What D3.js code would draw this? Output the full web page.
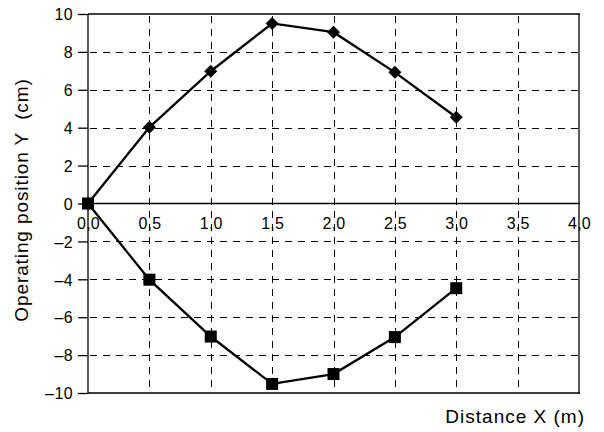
<!DOCTYPE html>
<html>
<head>
<meta charset="utf-8">
<script src="https://cdn.jsdelivr.net/npm/d3@7"></script>
<style>
  body { margin: 0; background: #fff; }
  text { font-family: "Liberation Sans", Arial, sans-serif; fill: #000; }
</style>
</head>
<body>
<svg id="chart" width="604" height="432"></svg>
<script>
// distance X (m)
const xValues = [0, 0.5, 1.0, 1.5, 2.0, 2.5, 3.0];
// upper track (diamonds) and lower track (squares), cm
const upperY = [0, 4.02, 6.98, 9.5, 9.04, 6.92, 4.55];
const lowerY = [0, -4.02, -7.02, -9.52, -9.0, -7.05, -4.47];
const xTicks = [0, 0.5, 1.0, 1.5, 2.0, 2.5, 3.0, 3.5, 4.0];
const yTicks = [-10, -8, -6, -4, -2, 0, 2, 4, 6, 8, 10];

const svg = d3.select("#chart");
const pLeft = 88, pRight = 579, pTop = 14, pBottom = 393;

const x = d3.scaleLinear().domain([0, 4]).range([pLeft, pRight]);
const y = d3.scaleLinear().domain([-10, 10]).range([pBottom, pTop]);

const fmtX = d => d3.format(".1f")(d).replace(".", ",");
const fmtY = d => (d < 0 ? "\u2013" + Math.abs(d) : String(d));

// dashed grid
const grid = svg.append("g").attr("stroke", "#000").attr("stroke-width", 1)
    .attr("stroke-dasharray", "7,6");
grid.selectAll(".hgrid").data(yTicks.filter(d => d !== 0 && Math.abs(d) !== 10))
    .enter().append("line")
    .attr("class", "hgrid")
    .attr("x1", pLeft + 2).attr("x2", pRight)
    .attr("y1", d => Math.round(y(d)) + 0.5).attr("y2", d => Math.round(y(d)) + 0.5);
grid.selectAll(".vgrid").data(xTicks.filter(d => d !== 0 && d !== 4))
    .enter().append("line")
    .attr("class", "vgrid")
    .attr("x1", d => Math.round(x(d)) + 0.5).attr("x2", d => Math.round(x(d)) + 0.5)
    .attr("y1", pTop + 2).attr("y2", pBottom);

// frame
const frame = svg.append("g").attr("stroke", "#000").attr("stroke-width", 1.3).attr("fill", "none");
frame.append("line").attr("x1", pLeft).attr("x2", pRight + 1).attr("y1", pTop).attr("y2", pTop);
frame.append("line").attr("x1", pLeft).attr("x2", pRight + 1).attr("y1", pBottom).attr("y2", pBottom);
frame.append("line").attr("x1", pRight).attr("x2", pRight).attr("y1", pTop).attr("y2", pBottom + 1);
frame.append("line").attr("x1", pLeft).attr("x2", pLeft).attr("y1", pTop).attr("y2", pBottom);
frame.append("line").attr("x1", pLeft).attr("x2", pRight + 1).attr("y1", y(0)).attr("y2", y(0));

// y axis (ticks to the left)
const yAxis = d3.axisLeft(y).tickValues(yTicks).tickSize(10).tickPadding(5).tickFormat(fmtY);
const gy = svg.append("g").attr("transform", `translate(${pLeft},0)`).call(yAxis);
gy.select(".domain").remove();
gy.selectAll("line").attr("stroke-width", 1.3);
gy.selectAll("text")
    .attr("dy", "0.36em")
    .style("font-size", "16px")
    .style("letter-spacing", "0.4px")
    .style("font-family", "Liberation Sans, Arial, sans-serif");

// x labels under the zero line
svg.append("g").selectAll("text").data(xTicks).enter().append("text")
    .attr("x", d => x(d) + 0.5)
    .attr("y", y(0) + 25)
    .attr("text-anchor", "middle")
    .style("font-size", "16px")
    .style("letter-spacing", "0.2px")
    .text(fmtX);

// series
const line = d3.line().x(d => x(d[0])).y(d => y(d[1]));
const upper = xValues.map((v, i) => [v, upperY[i]]);
const lower = xValues.map((v, i) => [v, lowerY[i]]);

[upper, lower].forEach(s => {
  svg.append("path").datum(s).attr("d", line)
      .attr("fill", "none").attr("stroke", "#000").attr("stroke-width", 2.3);
});

svg.append("g").selectAll("path").data(upper).enter().append("path")
    .attr("transform", d => `translate(${x(d[0])},${y(d[1])})`)
    .attr("d", "M0,-6.5L6.5,0L0,6.5L-6.5,0Z")
    .attr("fill", "#000");

svg.append("g").selectAll("rect").data(lower).enter().append("rect")
    .attr("x", d => x(d[0]) - 6)
    .attr("y", d => y(d[1]) - 6)
    .attr("width", 12).attr("height", 12)
    .attr("fill", "#000");

// axis titles
svg.append("text")
    .attr("transform", `translate(28,200) rotate(-90)`)
    .attr("text-anchor", "middle")
    .style("font-size", "19px")
    .style("letter-spacing", "0.9px")
    .style("white-space", "pre")
    .text("Operating position Y  (cm)");

svg.append("text")
    .attr("x", 585).attr("y", 422.5)
    .attr("text-anchor", "end")
    .style("font-size", "19px")
    .style("letter-spacing", "1px")
    .text("Distance X (m)");
</script>
</body>
</html>
